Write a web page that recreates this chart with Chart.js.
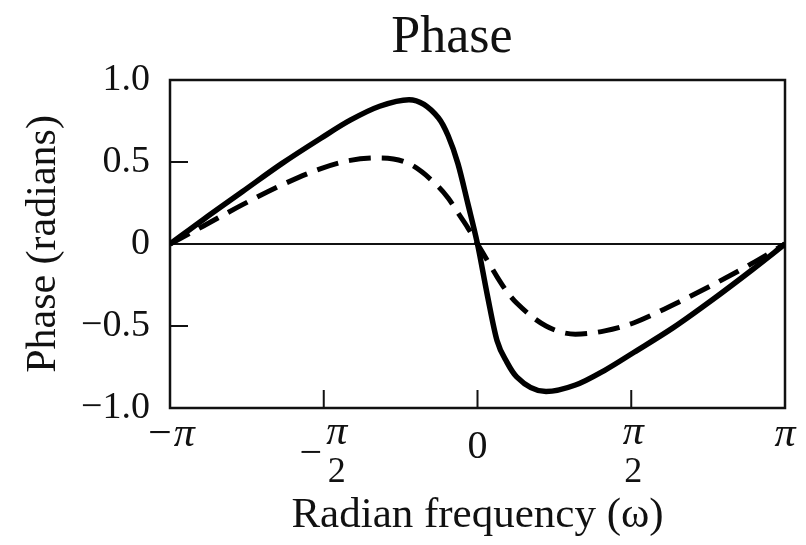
<!DOCTYPE html>
<html>
<head>
<meta charset="utf-8">
<script src="https://cdn.jsdelivr.net/npm/chart.js@4"></script>
<style>
  html, body { margin: 0; padding: 0; background: #fff; }
  #wrap { width: 806px; height: 545px; }
</style>
</head>
<body>
<div id="wrap"><canvas id="phaseChart"></canvas></div>
<script>
// ============================
// DATA
// ============================
const omega = [-3.1416, -2.8, -2.4, -2.0, -1.6, -1.3, -1.0, -0.7, -0.4, -0.3, -0.2, -0.1, 0,
               0.1, 0.2, 0.3, 0.4, 0.7, 1.0, 1.3, 1.6, 2.0, 2.4, 2.8, 3.1416];
const solidPhase = [0, 0.15, 0.32, 0.49, 0.645, 0.755, 0.84, 0.88, 0.77, 0.66, 0.49, 0.25, 0,
                    -0.31, -0.59, -0.72, -0.81, -0.9, -0.86, -0.77, -0.66, -0.51, -0.34, -0.16, 0];
const dashedPhase = [0, 0.11, 0.24, 0.36, 0.46, 0.51, 0.525, 0.49, 0.35, 0.28, 0.19, 0.1, 0,
                     -0.1, -0.2, -0.29, -0.36, -0.5, -0.55, -0.53, -0.48, -0.37, -0.25, -0.12, 0];

const xTickValues = [-3.1416, -1.5708, 0, 1.5708, 3.1416];
const xTickLabels = ['−π', '−π/2', '0', 'π/2', 'π'];
const yTickValues = [-1, -0.5, 0, 0.5, 1];
const yTickLabels = ['−1.0', '−0.5', '0', '0.5', '1.0'];

const SERIF = '"Liberation Serif", "DejaVu Serif", serif';
const INK = '#111';

// ============================
// FRAME, ZERO LINE, INWARD TICKS, LABELS
// ============================
const framePlugin = {
    id: 'frame',
    beforeDatasetsDraw(chart) {
        const { ctx, chartArea: a, scales: { x, y } } = chart;
        ctx.save();
        ctx.strokeStyle = INK;

        // zero line
        ctx.lineWidth = 2;
        const y0 = y.getPixelForValue(0);
        ctx.beginPath();
        ctx.moveTo(a.left, y0);
        ctx.lineTo(a.right, y0);
        ctx.stroke();

        // inward tick marks
        yTickValues.forEach(v => {
            const py = y.getPixelForValue(v);
            ctx.beginPath();
            ctx.moveTo(a.left, py);
            ctx.lineTo(a.left + 18, py);
            ctx.stroke();
        });
        xTickValues.forEach(v => {
            const px = x.getPixelForValue(v);
            ctx.beginPath();
            ctx.moveTo(px, a.bottom);
            ctx.lineTo(px, a.bottom - 18);
            ctx.stroke();
        });

        // box
        ctx.lineWidth = 2.5;
        ctx.strokeRect(a.left, a.top, a.right - a.left, a.bottom - a.top);
        ctx.restore();
    },
    afterDraw(chart) {
        const { ctx, scales: { x } } = chart;
        ctx.save();
        ctx.fillStyle = INK;
        ctx.textAlign = 'center';
        ctx.textBaseline = 'alphabetic';

        // title
        ctx.font = '52px ' + SERIF;
        ctx.fillText('Phase', 452, 52);

        // x tick labels (pi fractions)
        xTickValues.forEach((v, i) => {
            const px = x.getPixelForValue(v);
            const label = xTickLabels[i];
            if (label.includes('/')) {
                const neg = label.startsWith('−');
                const [num, den] = label.replace('−', '').split('/');
                const fx = neg ? px + 13 : px + 2;
                ctx.font = 'italic 42px ' + SERIF;
                ctx.fillText(num, fx, 444);
                ctx.font = '36px ' + SERIF;
                ctx.fillText(den, fx, 482);
                if (neg) {
                    ctx.font = '40px ' + SERIF;
                    ctx.fillText('−', px - 13, 465);
                }
            } else if (label === '0') {
                ctx.font = '40px ' + SERIF;
                ctx.fillText(label, px, 458);
            } else {
                ctx.font = 'italic 42px ' + SERIF;
                ctx.fillText(label, px, 446);
            }
        });
        ctx.restore();
    }
};

// ============================
// CHART
// ============================
const ctx = document.getElementById('phaseChart');

new Chart(ctx, {
    type: 'line',
    data: {
        datasets: [
            {
                label: 'Solid',
                data: omega.map((w, i) => ({ x: w, y: solidPhase[i] })),
                borderColor: '#000',
                borderWidth: 5.5,
                pointRadius: 0,
                cubicInterpolationMode: 'monotone',
                fill: false
            },
            {
                label: 'Dashed',
                data: omega.map((w, i) => ({ x: w, y: dashedPhase[i] })),
                borderColor: '#000',
                borderWidth: 5,
                borderDash: [22, 11],
                pointRadius: 0,
                cubicInterpolationMode: 'monotone',
                fill: false
            }
        ]
    },
    options: {
        responsive: true,
        maintainAspectRatio: false,
        animation: false,
        layout: { padding: { top: 80, right: 21, left: 0, bottom: 0 } },
        plugins: {
            legend: { display: false },
            tooltip: { enabled: false },
            title: { display: false }
        },
        scales: {
            x: {
                type: 'linear',
                min: -3.1416,
                max: 3.1416,
                afterBuildTicks: s => { s.ticks = xTickValues.map(v => ({ value: v })); },
                afterFit: s => { s.height = 137; },
                grid: { display: false },
                border: { display: false },
                ticks: { display: false },
                title: {
                    display: true,
                    text: 'Radian frequency (ω)',
                    color: INK,
                    font: { family: SERIF, size: 43 },
                    padding: { top: 0, bottom: 3 }
                }
            },
            y: {
                min: -1,
                max: 1,
                afterBuildTicks: s => { s.ticks = yTickValues.map(v => ({ value: v })); },
                afterFit: s => { s.width = 170; },
                grid: { display: false, drawTicks: false },
                border: { display: false },
                ticks: {
                    color: INK,
                    font: { family: SERIF, size: 38 },
                    padding: 20,
                    callback: v => yTickLabels[yTickValues.indexOf(v)]
                },
                title: {
                    display: true,
                    text: 'Phase (radians)',
                    color: INK,
                    font: { family: SERIF, size: 42 },
                    padding: { top: 19, bottom: 0 }
                }
            }
        }
    },
    plugins: [framePlugin]
});
</script>
</body>
</html>
